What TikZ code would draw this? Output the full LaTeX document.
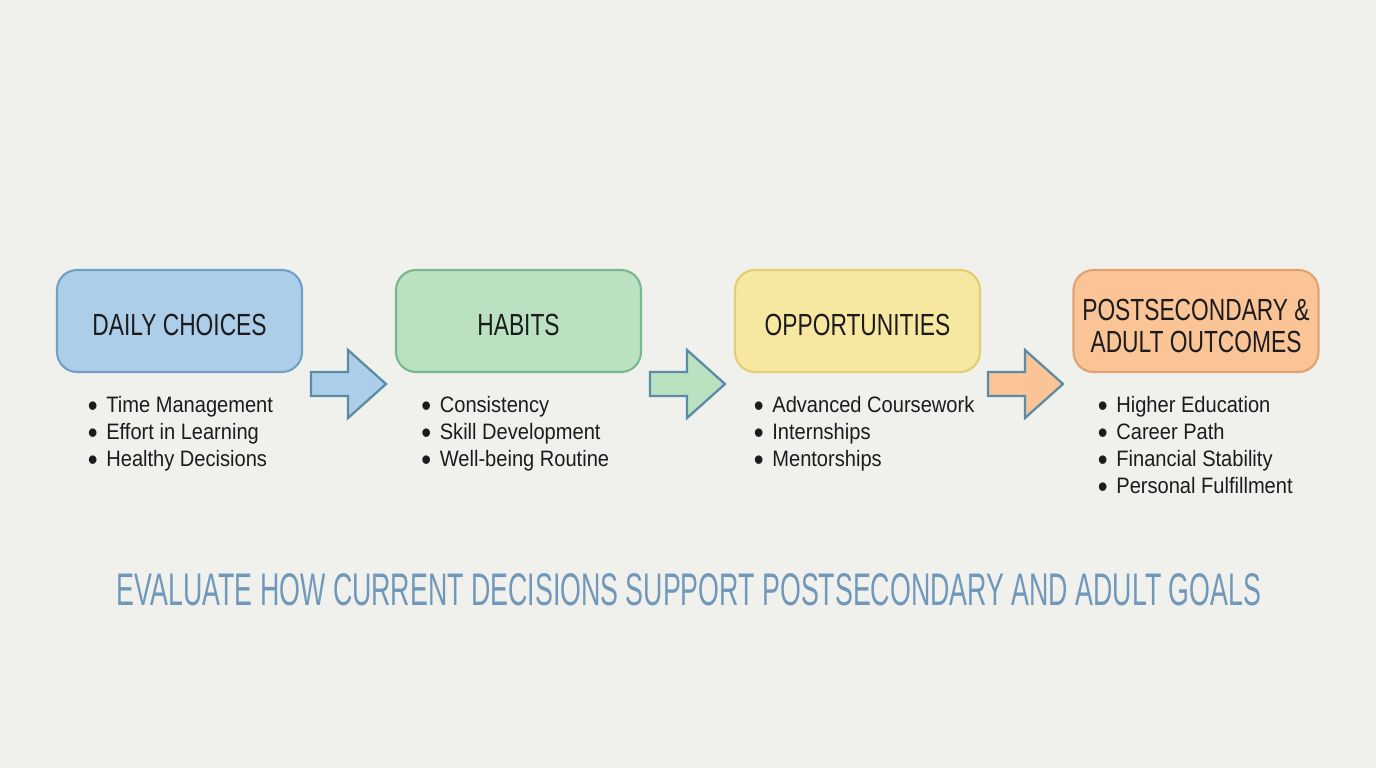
\documentclass[tikz,border=0pt]{standalone}
\usepackage{fontspec}
\setmainfont{Liberation Sans}
\newfontfamily\boxfont{Liberation Sans}[FakeStretch=0.745]
\newfontfamily\listfont{Liberation Sans}[FakeStretch=0.9]
\newfontfamily\titlefont{Liberation Sans}[FakeStretch=0.586]
\definecolor{bg}{RGB}{240,240,236}
\definecolor{txt}{RGB}{28,28,30}
\definecolor{blueF}{RGB}{172,206,232}
\definecolor{blueD}{RGB}{112,160,198}
\definecolor{greenF}{RGB}{186,226,192}
\definecolor{greenD}{RGB}{122,182,142}
\definecolor{yellowF}{RGB}{246,232,160}
\definecolor{yellowD}{RGB}{226,206,112}
\definecolor{orangeF}{RGB}{250,196,150}
\definecolor{orangeD}{RGB}{226,162,112}
\definecolor{arrowD}{RGB}{92,140,165}
\definecolor{titleC}{RGB}{112,152,186}
\newcommand{\bl}[1]{\makebox[0.37cm][l]{\smash{\raisebox{-2.1pt}{\scalebox{1.4}{•}}}}#1}
\newcommand{\upstrut}[1]{\rule{0pt}{#1}}
\begin{document}
\begin{tikzpicture}[x=0.02cm,y=-0.02cm,
  stagebox/.style={draw, line width=1.2pt, rounded corners=0.4cm, minimum width=4.9cm, minimum height=2.04cm, inner sep=0pt, text=txt, font=\boxfont\fontsize{17.4}{18.2}\selectfont, align=center},
  blist/.style={anchor=north west, inner sep=0pt, align=left, text=txt, font=\listfont\fontsize{12.7}{15.4}\selectfont},
  blockarrow/.style={draw=arrowD, line width=1.3pt, line join=miter}
]
\fill[bg] (0,0) rectangle (1376,768);
\useasboundingbox (0,0) rectangle (1376,768);

\node[stagebox, fill=blueF, draw=blueD] (b1) at (179.5,321) {\upstrut{16.1pt}DAILY CHOICES};
\node[stagebox, fill=greenF, draw=greenD] (b2) at (518.5,321) {\upstrut{16.1pt}HABITS};
\node[stagebox, fill=yellowF, draw=yellowD] (b3) at (857.5,321) {\upstrut{16.1pt}OPPORTUNITIES};
\node[stagebox, fill=orangeF, draw=orangeD] (b4) at (1196,321) {\upstrut{18pt}POSTSECONDARY \&\\ADULT OUTCOMES};

\node[blist] (l1) at (87.5,396) {\bl{Time Management}\\\bl{Effort in Learning}\\\bl{Healthy Decisions}};
\node[blist] (l2) at (421,396) {\bl{Consistency}\\\bl{Skill Development}\\\bl{Well-being Routine}};
\node[blist] (l3) at (753.5,396) {\bl{Advanced Coursework}\\\bl{Internships}\\\bl{Mentorships}};
\node[blist] (l4) at (1097.5,396) {\bl{Higher Education}\\\bl{Career Path}\\\bl{Financial Stability}\\\bl{Personal Fulfillment}};

\foreach \dx/\col in {0/blueF, 339/greenF, 677/orangeF}{
  \draw[blockarrow, fill=\col, xshift=\dx*0.02cm] (311,372) -- (348,372) -- (348,350) -- (386,384) -- (348,418) -- (348,396) -- (311,396) -- cycle;
}

\node[text=titleC, font=\titlefont\fontsize{26}{30}\selectfont, inner sep=0pt] (title) at (689,590) {EVALUATE HOW CURRENT DECISIONS SUPPORT POSTSECONDARY AND ADULT GOALS};
\end{tikzpicture}
\end{document}
